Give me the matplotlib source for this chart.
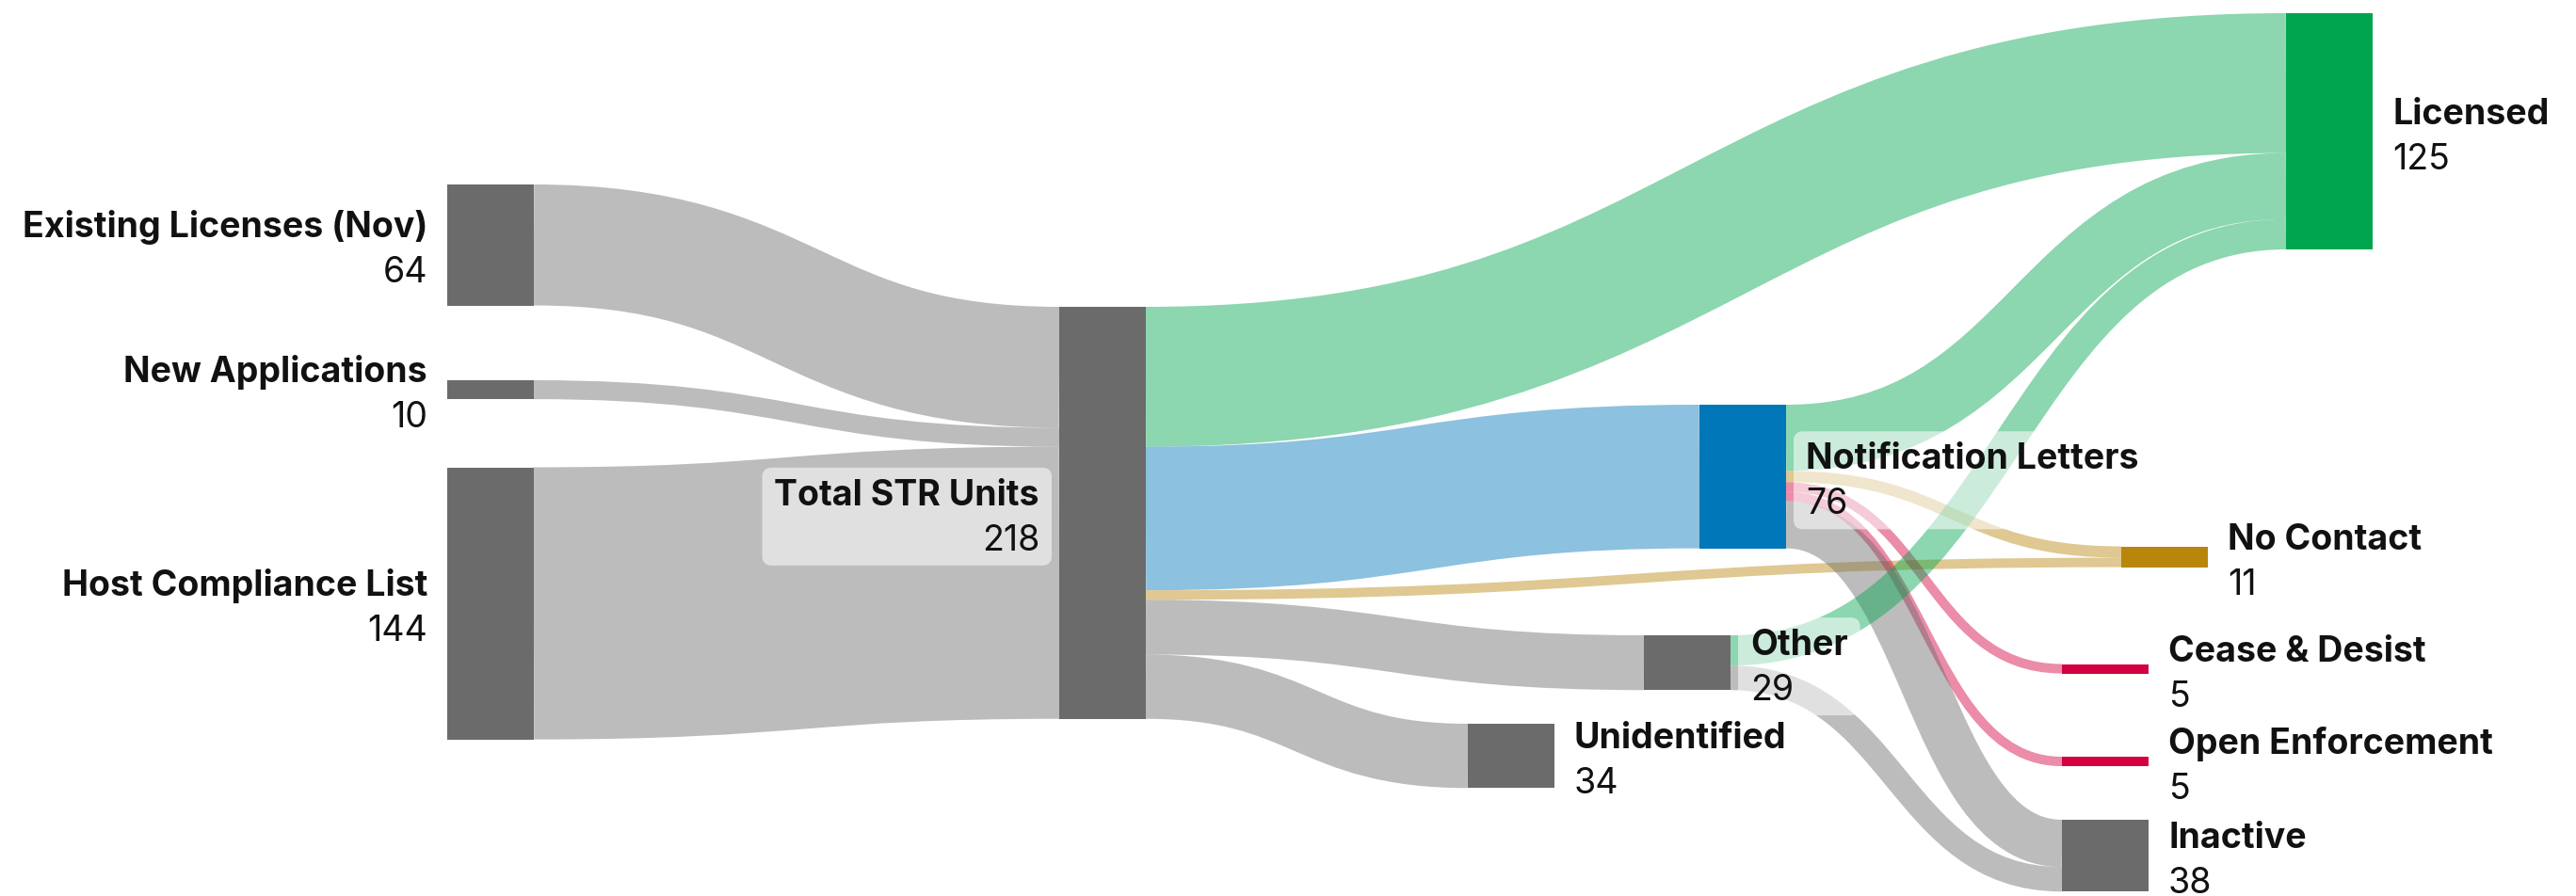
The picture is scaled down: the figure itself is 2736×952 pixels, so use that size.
import matplotlib
matplotlib.use("Agg")
import matplotlib.pyplot as plt
from matplotlib.path import Path
from matplotlib.patches import PathPatch, Rectangle, FancyBboxPatch
from matplotlib.colors import to_rgba

# --- data ---------------------------------------------------------------
node_names = [
    "Existing Licenses (Nov)", "New Applications", "Host Compliance List",
    "Total STR Units", "Licensed", "Notification Letters", "No Contact",
    "Other", "Unidentified", "Cease & Desist", "Open Enforcement", "Inactive",
]
link_source = ["Existing Licenses (Nov)", "New Applications", "Host Compliance List",
               "Total STR Units", "Total STR Units", "Total STR Units",
               "Total STR Units", "Total STR Units",
               "Notification Letters", "Notification Letters", "Notification Letters",
               "Notification Letters", "Notification Letters",
               "Other", "Other"]
link_target = ["Total STR Units", "Total STR Units", "Total STR Units",
               "Licensed", "Notification Letters", "No Contact", "Other", "Unidentified",
               "Licensed", "No Contact", "Cease & Desist", "Open Enforcement", "Inactive",
               "Licensed", "Inactive"]
link_value = [64, 10, 144,
              74, 76, 5, 29, 34,
              35, 6, 5, 5, 25,
              16, 13]

# --- styling / layout (pixels, figure is 2736 x 952) ---------------------
GRAY = "#6b6b6b"
node_color = {
    "Licensed": "#00a550",
    "Notification Letters": "#0077b9",
    "No Contact": "#b8860b",
    "Cease & Desist": "#d4003f",
    "Open Enforcement": "#d4003f",
}
node_x = {
    "Existing Licenses (Nov)": 475, "New Applications": 475, "Host Compliance List": 475,
    "Total STR Units": 1125, "Unidentified": 1559, "Other": 1746,
    "Notification Letters": 1805, "No Contact": 2253, "Cease & Desist": 2190,
    "Open Enforcement": 2190, "Inactive": 2190, "Licensed": 2428,
}
node_top = {
    "Existing Licenses (Nov)": 196, "New Applications": 404, "Host Compliance List": 496.5,
    "Total STR Units": 326, "Licensed": 14, "Notification Letters": 430,
    "No Contact": 580.5, "Other": 675, "Unidentified": 769,
    "Cease & Desist": 705.5, "Open Enforcement": 804, "Inactive": 871,
}
left_labels = ["Existing Licenses (Nov)", "New Applications", "Host Compliance List",
               "Total STR Units"]
NODE_W = 92
K = 2.008          # pixels per unit
LINK_ALPHA = 0.45
FONT = ["Inter", "Roboto", "DejaVu Sans"]
FS = 27

# node values
node_val = {}
for n in node_names:
    vin = sum(v for t, v in zip(link_target, link_value) if t == n)
    vout = sum(v for s, v in zip(link_source, link_value) if s == n)
    node_val[n] = max(vin, vout)

fig = plt.figure(figsize=(27.36, 9.52), dpi=100)
ax = fig.add_axes([0, 0, 1, 1])
ax.set_xlim(0, 2736)
ax.set_ylim(952, 0)
ax.axis("off")

# stack links at source (ordered by target position)
links = list(range(len(link_value)))
src_y = {}
for n in node_names:
    outs = sorted([i for i in links if link_source[i] == n],
                  key=lambda i: node_top[link_target[i]])
    y = node_top[n]
    for i in outs:
        w = link_value[i] * K
        src_y[i] = y + w / 2
        y += w
# stack links at target (ordered by position at source)
tgt_y = {}
for n in node_names:
    ins = sorted([i for i in links if link_target[i] == n], key=lambda i: src_y[i])
    y = node_top[n]
    for i in ins:
        w = link_value[i] * K
        tgt_y[i] = y + w / 2
        y += w

for i in links:
    s, t = link_source[i], link_target[i]
    x0 = node_x[s] + NODE_W
    x1 = node_x[t]
    xm = (x0 + x1) / 2
    y0, y1 = src_y[i], tgt_y[i]
    path = Path([(x0, y0), (xm, y0), (xm, y1), (x1, y1)],
                [Path.MOVETO, Path.CURVE4, Path.CURVE4, Path.CURVE4])
    col = to_rgba(node_color.get(t, GRAY), LINK_ALPHA)
    ax.add_patch(PathPatch(path, facecolor="none", edgecolor=col,
                           lw=link_value[i] * K * 0.72, capstyle="butt", zorder=1))

for n in node_names:
    ax.add_patch(Rectangle((node_x[n], node_top[n]), NODE_W, node_val[n] * K,
                           facecolor=node_color.get(n, GRAY), edgecolor="none", zorder=2))

# labels
label_texts = []
for n in node_names:
    c = node_top[n] + node_val[n] * K / 2
    if n in left_labels:
        x, ha = node_x[n] - 21, "right"
    else:
        x, ha = node_x[n] + NODE_W + 21, "left"
    t1 = ax.text(x, c - 8, n, ha=ha, va="baseline", fontsize=FS,
                 fontweight="bold", family=FONT, color="#111111", zorder=4)
    t2 = ax.text(x, c + 40, str(node_val[n]), ha=ha, va="baseline", fontsize=FS,
                 fontweight="normal", family=FONT, color="#111111", zorder=4)
    label_texts.append((t1, t2))

fig.canvas.draw()
r = fig.canvas.get_renderer()
inv = ax.transData.inverted()
for t1, t2 in label_texts:
    b1 = t1.get_window_extent(r)
    b2 = t2.get_window_extent(r)
    (xa, ya) = inv.transform((min(b1.x0, b2.x0), min(b1.y0, b2.y0)))
    (xb, yb) = inv.transform((max(b1.x1, b2.x1), max(b1.y1, b2.y1)))
    left, right = min(xa, xb) - 13, max(xa, xb) + 13
    top, bottom = min(ya, yb) - 12, max(ya, yb) + 8
    ax.add_patch(FancyBboxPatch((left, top), right - left, bottom - top,
                                boxstyle="round,pad=0,rounding_size=10",
                                facecolor=(1, 1, 1, 0.55), edgecolor="none", zorder=3))

fig.savefig("out.png", dpi=100)
